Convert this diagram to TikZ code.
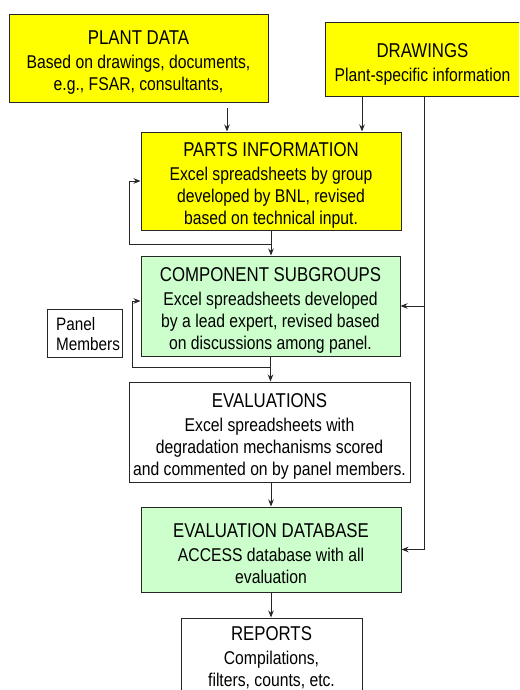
\documentclass[tikz,border=0pt]{standalone}
\usepackage{fontspec}
\newfontfamily\dfont[FakeStretch=0.85]{Liberation Sans}
\newfontfamily\tfont[FakeStretch=0.84]{Liberation Sans}
\usetikzlibrary{arrows.meta}
\definecolor{byellow}{RGB}{255,255,0}
\definecolor{bgreen}{RGB}{204,255,204}
\newcommand\boxtitle[1]{{\tfont\fontsize{20}{22}\selectfont #1}\\[2pt]}
\begin{document}
\begin{tikzpicture}[x=1pt,y=-1pt,
  box/.style={draw=black!85, line width=1pt, inner sep=0pt},
  txt/.style={inner sep=0pt, align=center, font=\dfont\fontsize{18.5}{22}\selectfont},
  arr/.style={-{Stealth[length=7pt,width=5.5pt]}, line width=0.8pt, draw=black!85},
  ln/.style={line width=0.8pt, draw=black!85}]
\useasboundingbox (0,0) rectangle (519,690);
\clip (0,0) rectangle (519,690);
\fill[white] (0,0) rectangle (519,690);

\node[box, fill=byellow, minimum width=259pt, minimum height=88pt] (plant) at (138.5,59) {};
\node[txt] (planttext) at ([yshift=-4pt]plant.center)
  {\boxtitle{PLANT DATA}Based on drawings, documents,\\e.g., FSAR, consultants,};
\node[box, fill=byellow, minimum width=195pt, minimum height=74pt] (drawings) at (422.5,60) {};
\node[txt] (drawingstext) at ([yshift=-4pt]drawings.center)
  {\boxtitle{DRAWINGS}Plant-specific information};
\node[box, fill=byellow, minimum width=260pt, minimum height=98pt] (parts) at (271,181) {};
\node[txt] (partstext) at ([yshift=-4pt]parts.center)
  {\boxtitle{PARTS INFORMATION}Excel spreadsheets by group\\developed by BNL, revised\\based on technical input.};
\node[box, fill=bgreen, minimum width=259pt, minimum height=100pt] (comp) at (270.5,306) {};
\node[txt] (comptext) at ([yshift=-4pt]comp.center)
  {\boxtitle{COMPONENT SUBGROUPS}Excel spreadsheets developed\\by a lead expert, revised based\\on discussions among panel.};
\node[box, fill=white, minimum width=75pt, minimum height=48pt] (panel) at (84.5,333) {};
\node[txt, align=left, anchor=west, font=\dfont\fontsize{18}{20}\selectfont] (paneltext) at (56,334) {Panel\\Members};
\node[box, fill=white, minimum width=281pt, minimum height=100pt] (eval) at (269.5,432) {};
\node[txt] (evaltext) at ([yshift=-4pt]eval.center)
  {\boxtitle{EVALUATIONS}Excel spreadsheets with\\degradation mechanisms scored\\and commented on by panel members.};
\node[box, fill=bgreen, minimum width=260pt, minimum height=85pt] (evaldb) at (271,549.5) {};
\node[txt] (evaldbtext) at ([yshift=-4pt]evaldb.center)
  {\boxtitle{EVALUATION DATABASE}ACCESS database with all\\evaluation};
\node[box, fill=white, minimum width=181pt, minimum height=92pt] (reports) at (271.5,664) {};
\node[txt, anchor=north] (reptext) at (271.5,626)
  {\boxtitle{REPORTS}Compilations,\\filters, counts, etc.};

% connectors
\coordinate (p1) at (227,108);
\draw[arr] (p1) -- (p1 |- parts.north);
\coordinate (d1) at (362,0);
\draw[arr] (d1 |- drawings.south) -- (d1 |- parts.north);
\coordinate (rx) at (424.5,0);
\coordinate (r1) at (rx |- comp.east);
\coordinate (r2) at (rx |- evaldb.east);
\draw[ln] (rx |- drawings.south) -- (r2);
\draw[arr] (r1) -- (comp.east);
\draw[arr] (r2) -- (evaldb.east);

\draw[arr] (parts.south) -- (parts.south |- comp.north);
\coordinate (l1) at (129,244);
\draw[arr] (parts.south |- l1) -- (l1) |- (parts.west);

\draw[arr] (comp.south) -- (comp.south |- eval.north);
\coordinate (l2) at (132,367);
\draw[arr] (comp.south |- l2) -- (l2) |- ([yshift=5pt]comp.west);

\draw[arr] (eval.south -| evaldb.north) -- (evaldb.north);
\draw[arr] (evaldb.south) -- (evaldb.south |- reports.north);
\end{tikzpicture}
\end{document}
